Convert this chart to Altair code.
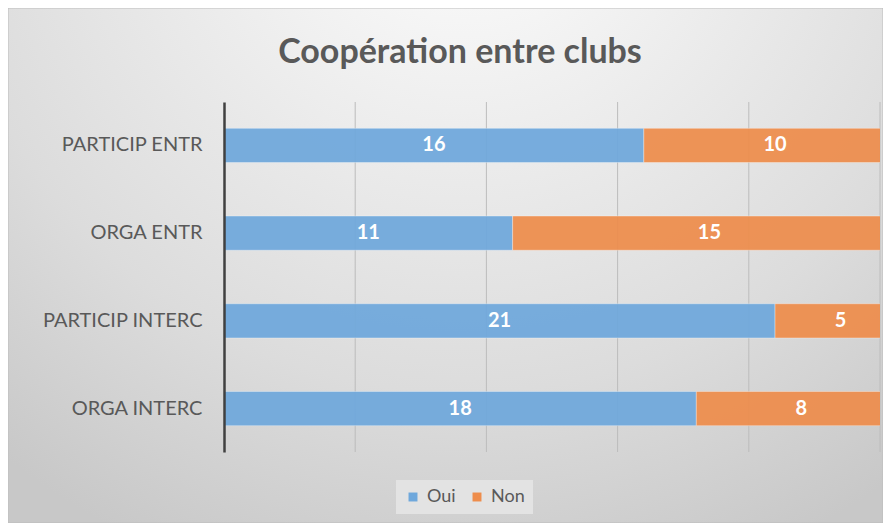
import altair as alt
import pandas as pd

# ---- data ----
categories = ["PARTICIP ENTR", "ORGA ENTR", "PARTICIP INTERC", "ORGA INTERC"]
oui = [16, 11, 21, 18]
non = [10, 15, 5, 8]
series = ["Oui", "Non"]
colors = ["#6FA8DC", "#EE8D4C"]
grid_ticks = [5, 10, 15, 20, 25]
x_max = 25
title_text = "Coopération entre clubs"

rows = []
for c, o, n in zip(categories, oui, non):
    rows.append({"cat": c, "serie": "Oui", "val": o, "ordre": 0})
    rows.append({"cat": c, "serie": "Non", "val": n, "ordre": 1})
df = pd.DataFrame(rows)

W, H = 656, 350
PL, PT = 216, 94
TOTAL_W, TOTAL_H = 875, 515

xscale = alt.Scale(domain=[0, x_max], nice=False, zero=True)

bg = alt.Chart(pd.DataFrame({"k": [0]})).mark_rect(
    color=alt.RadialGradient(
        gradient="radial",
        stops=[
            alt.GradientStop(color="#ffffff", offset=0),
            alt.GradientStop(color="#f0f0f0", offset=0.3),
            alt.GradientStop(color="#dcdcdc", offset=0.7),
            alt.GradientStop(color="#c8c8c8", offset=1),
        ],
        x1=0.52, y1=0.05, r1=0, x2=0.52, y2=0.05, r2=0.85,
    ),
    stroke="#bdbdbd", strokeWidth=1,
).encode(
    x=alt.value(-PL), x2=alt.value(TOTAL_W - PL),
    y=alt.value(-PT), y2=alt.value(TOTAL_H - PT),
)

grid = alt.Chart(pd.DataFrame({"t": grid_ticks})).mark_rule(
    color="#bcbcbc", strokeWidth=1
).encode(
    x=alt.X("t:Q", scale=xscale, axis=None),
    y=alt.value(0), y2=alt.value(H),
)

base = alt.Chart(df)

yenc = alt.Y(
    "cat:N", sort=categories,
    scale=alt.Scale(paddingInner=0.61, paddingOuter=0.3),
    axis=alt.Axis(
        title=None, labelFont="Lato", labelFontSize=20, labelColor="#595959",
        labelPadding=22, ticks=False, domain=True, domainColor="#404040",
        domainWidth=2.5, grid=False, zindex=1,
    ),
)

bars = base.mark_bar(
    clip=True, opacity=0.93, stroke="#ffffff", strokeOpacity=0.35, strokeWidth=1
).encode(
    y=yenc,
    x=alt.X("val:Q", stack="zero", scale=xscale, axis=None),
    color=alt.Color(
        "serie:N",
        scale=alt.Scale(domain=series, range=colors),
        legend=alt.Legend(
            title=None, orient="none", direction="horizontal",
            legendX=172, legendY=378, symbolType="square", symbolSize=80,
            symbolStrokeWidth=0, symbolOpacity=1, labelFont="Lato", labelFontSize=18,
            labelColor="#595959", fillColor="#e3e3e3", padding=8,
            columnPadding=12, labelOffset=5, labelLimit=40,
        ),
    ),
    order=alt.Order("ordre:Q"),
)

labels = base.transform_stack(
    stack="val", groupby=["cat"], as_=["x0", "x1"], sort=[alt.SortField("ordre")]
).transform_calculate(
    mid="(datum.x0 + datum.x1) / 2"
).mark_text(
    font="Lato", fontWeight="bold", fontSize=20, color="white", baseline="middle"
).encode(
    y=alt.Y("cat:N", sort=categories),
    x=alt.X("mid:Q", scale=xscale, axis=None),
    text="val:Q",
)

title = alt.Chart(pd.DataFrame({"t": [title_text]})).mark_text(
    font="Lato", fontWeight="bold", fontSize=34, color="#595959",
    align="center", baseline="alphabetic",
).encode(x=alt.value(236), y=alt.value(-39), text="t:N")

chart = alt.layer(bg, grid, bars, labels, title).properties(
    width=W, height=H,
    autosize=alt.AutoSizeParams(type="none"),
    padding={"left": PL, "top": PT, "right": TOTAL_W - PL - W, "bottom": TOTAL_H - PT - H},
    background="#d6d6d6",
).configure_view(stroke=None)

chart.save("out.html", embed_options={"renderer": "svg", "actions": False})
